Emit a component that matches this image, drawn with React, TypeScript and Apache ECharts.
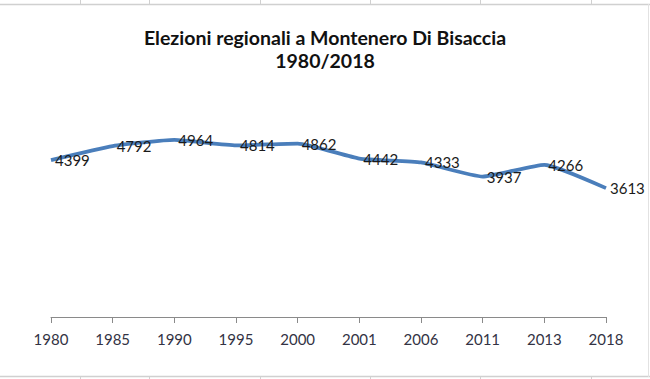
import React, { useEffect, useRef } from "react";
import * as echarts from "echarts";

const categories = ["1980", "1985", "1990", "1995", "2000", "2001", "2006", "2011", "2013", "2018"];
const voters = [4399, 4792, 4964, 4814, 4862, 4442, 4333, 3937, 4266, 3613];
const titleLines = ["Elezioni regionali a Montenero Di Bisaccia", "1980/2018"];
const sheetColumns = [80, 149, 260, 370, 480, 591];

export default function App() {
  const ref = useRef<HTMLDivElement>(null);
  useEffect(() => {
    if (!ref.current) return;
    const chart = echarts.init(ref.current, null, { renderer: "svg" });
    const gridColor = "#d0d0d0";
    const graphics: any[] = [
      { type: "line", shape: { x1: 0, y1: 4.5, x2: 650, y2: 4.5 }, style: { stroke: gridColor, lineWidth: 1.5 } },
      { type: "line", shape: { x1: 0, y1: 376.5, x2: 650, y2: 376.5 }, style: { stroke: gridColor, lineWidth: 1.5 } },
      { type: "line", shape: { x1: 648.5, y1: 4, x2: 648.5, y2: 377 }, style: { stroke: "#e2e2e2", lineWidth: 1 } },
    ];
    sheetColumns.forEach((x) => {
      graphics.push({ type: "line", shape: { x1: x + 0.5, y1: 0, x2: x + 0.5, y2: 4 }, style: { stroke: gridColor, lineWidth: 1 } });
      graphics.push({ type: "line", shape: { x1: x + 0.5, y1: 377, x2: x + 0.5, y2: 379 }, style: { stroke: gridColor, lineWidth: 1 } });
    });
    chart.setOption({
      animation: false,
      backgroundColor: "#ffffff",
      title: {
        text: titleLines.join("\n"),
        left: "center",
        top: 21,
        textStyle: {
          fontFamily: "Lato",
          fontWeight: "bold",
          fontSize: 19.5,
          lineHeight: 23,
          color: "#111111",
        },
      },
      grid: { left: 51, right: 44, top: 103, bottom: 62 },
      xAxis: {
        type: "category",
        data: categories,
        boundaryGap: false,
        axisLine: { lineStyle: { color: "#8a8a8a", width: 1 } },
        axisTick: { length: 6, lineStyle: { color: "#8a8a8a" } },
        axisLabel: { fontFamily: "Lato", fontSize: 15, color: "#333344", margin: 14 },
      },
      yAxis: {
        type: "value",
        min: 0,
        max: 6000,
        show: false,
        splitLine: { show: false },
      },
      series: [
        {
          type: "line",
          data: voters,
          smooth: 0.15,
          symbol: "circle",
          symbolSize: 2,
          showSymbol: true,
          itemStyle: { color: "rgba(0,0,0,0)", borderWidth: 0 },
          lineStyle: { color: "#4a7ebb", width: 3.8 },
          label: {
            show: true,
            position: "right",
            distance: 3,
            fontFamily: "Lato",
            fontSize: 15,
            color: "#1a1a1a",
          },
          labelLayout: { hideOverlap: false },
        },
      ],
      graphic: graphics,
    });
    return () => chart.dispose();
  }, []);
  return <div ref={ref} style={{ position: "fixed", left: 0, top: 0, width: 650, height: 379 }} />;
}
